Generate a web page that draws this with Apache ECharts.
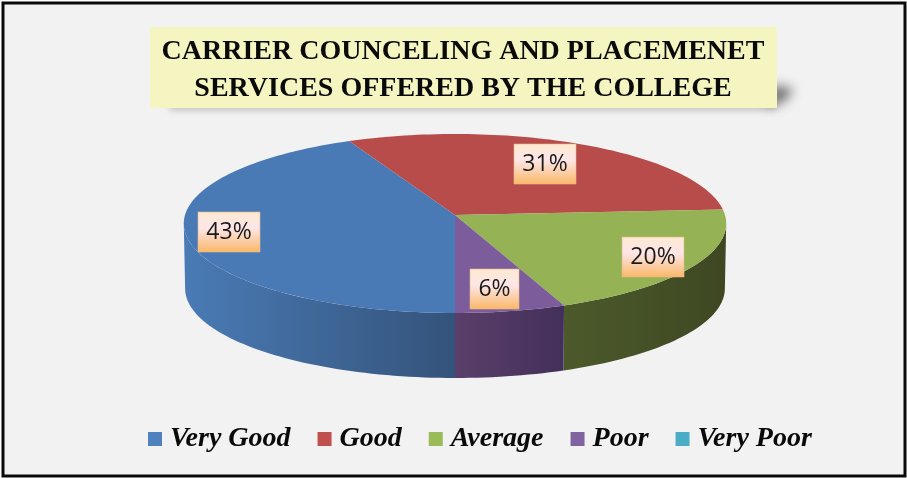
<!DOCTYPE html>
<html>
<head>
<meta charset="utf-8">
<style>html,body{margin:0;padding:0;background:#fff}#c{width:907px;height:478px}</style>
<script src="https://cdn.jsdelivr.net/npm/echarts@6/dist/echarts.min.js"></script>
</head>
<body>
<div id="c"></div>
<script>
const categories = ['Very Good', 'Good', 'Average', 'Poor', 'Very Poor'];
const percentValues = [43, 31, 20, 6, 0];
const titleLines = ['CARRIER COUNCELING AND PLACEMENET', 'SERVICES OFFERED BY THE COLLEGE'];

const topColors = ['#4a7ab5', '#b74c4a', '#95b254', '#7c5c9a', '#4bacc6'];
const legendColors = ['#4f81bd', '#c0504d', '#9bbb59', '#8064a2', '#4bacc6'];
const sideColors = [['#4a7bb5', '#34537b'], ['#8a3a38', '#8a3a38'], ['#4c5a2b', '#3e4722'], ['#5a3f6a', '#43305a'], ['#3a8296', '#3a8296']];
const labelReach = [0.84, 0.7, 0.83, 0.78, 0];
const labelNudge = [[-1, 0], [-1, 0], [0, 1], [-3, 1], [0, 0]];

/* Perspective model of the tilted disc */
const CX = 455, CY = 215, A = 270, B = 88.7, K = 0.095, DEPTH = 65, SHRINK = 0.995;
function project(deg, t, drop) {
  const r = deg * Math.PI / 180;
  const u = -Math.sin(r) * t, v = Math.cos(r) * t;
  const d = 1 - K * v;
  const s = drop ? SHRINK : 1;
  return [CX + s * A * u / d, CY + B * v / d + (drop ? DEPTH : 0)];
}
function arcPoints(from, to, drop) {
  const pts = [];
  const n = Math.max(2, Math.ceil(Math.abs(to - from) / 1.5));
  for (let i = 0; i <= n; i++) pts.push(project(from + (to - from) * i / n, 1, drop));
  return pts;
}
/* rim is visible between these clockwise angles, measured from the front */
const visibleRanges = [[-84.5, 84.5], [275.5, 444.5]];

let running = 0;
const spans = percentValues.map(p => {
  const s = running / 100 * 360;
  running += p;
  return [s, running / 100 * 360, p];
});

function renderSlice(i) {
  return function (params, api) {
    const start = api.value(0), end = api.value(1), pct = api.value(2);
    if (!pct) return { type: 'group', children: [] };
    const children = [];
    visibleRanges.forEach(rg => {
      const a = Math.max(start, rg[0]), b = Math.min(end, rg[1]);
      if (b <= a) return;
      const upper = arcPoints(a, b, false), lower = arcPoints(b, a, true);
      const x0 = Math.min(upper[0][0], upper[upper.length - 1][0]);
      const x1 = Math.max(upper[0][0], upper[upper.length - 1][0]);
      children.push({
        type: 'polygon', silent: true,
        shape: { points: upper.concat(lower) },
        style: {
          fill: new echarts.graphic.LinearGradient(x0, 0, x1, 0, [
            { offset: 0, color: sideColors[i][0] },
            { offset: 1, color: sideColors[i][1] }
          ], true)
        }
      });
    });
    children.push({
      type: 'polygon', silent: true,
      shape: { points: [[CX, CY]].concat(arcPoints(start, end, false)) },
      style: { fill: topColors[i] }
    });
    const text = pct + '%';
    const w = text.length > 2 ? 62 : 49, h = 40;
    const c = project((start + end) / 2, labelReach[i], false);
    const lx = Math.round(c[0] - w / 2 + labelNudge[i][0]), ly = Math.round(c[1] - h / 2 + labelNudge[i][1]);
    children.push({
      type: 'rect', silent: true, z2: 50,
      shape: { x: lx, y: ly, width: w, height: h },
      style: {
        fill: new echarts.graphic.LinearGradient(0, 0, 0, 1, [
          { offset: 0, color: '#fde9d0' },
          { offset: 0.4, color: '#fde6e8' },
          { offset: 1, color: '#fab766' }
        ]),
        stroke: 'rgba(232,185,138,0.6)', lineWidth: 1
      }
    });
    children.push({
      type: 'text', silent: true, z2: 51,
      x: lx + w / 2, y: ly + h / 2,
      style: { text: text, fill: '#1a1a1a', font: '23px "Open Sans"', align: 'center', verticalAlign: 'middle' }
    });
    return { type: 'group', children: children };
  };
}

const series = categories.map((name, i) => ({
  type: 'custom',
  name: name,
  coordinateSystem: 'none',
  silent: true,
  itemStyle: { color: legendColors[i] },
  renderItem: renderSlice(i),
  data: [spans[i]]
}));

const OFF = 2000;
const option = {
  animation: false,
  backgroundColor: '#ffffff',
  title: {
    text: titleLines.join('\n'),
    left: 458, top: 28, textAlign: 'center',
    textStyle: {
      fontFamily: '"Liberation Serif"', fontWeight: 'bold', fontSize: 28,
      lineHeight: 37, color: '#0a0a0a', align: 'center'
    }
  },
  legend: {
    left: 143, top: 420, icon: 'rect', itemWidth: 14, itemHeight: 14, itemGap: 27,
    selectedMode: false,
    data: categories,
    textStyle: {
      fontFamily: '"Liberation Serif"', fontStyle: 'italic', fontWeight: 'bold',
      fontSize: 28, color: '#0a0a0a', padding: [0, 0, 0, 3]
    }
  },
  graphic: [
    { type: 'rect', z: -5, silent: true, shape: { x: 3, y: 3, width: 902, height: 473 },
      style: { fill: '#f2f2f2', stroke: '#0a0a0a', lineWidth: 3 } },
    { type: 'polygon', z: -4, silent: true,
      shape: { points: [[170 - OFF, 100], [776 - OFF, 100], [776 - OFF, 110], [170 - OFF, 110]] },
      style: { fill: '#888', shadowBlur: 7, shadowColor: 'rgba(120,120,120,0.45)', shadowOffsetX: OFF } },
    { type: 'polygon', z: -4, silent: true,
      shape: { points: [[770 - OFF, 86], [793 - OFF, 88], [786 - OFF, 100], [770 - OFF, 106]] },
      style: { fill: '#555', shadowBlur: 12, shadowColor: 'rgba(70,70,70,0.8)', shadowOffsetX: OFF } },
    { type: 'rect', z: -3, silent: true, shape: { x: 150, y: 27, width: 627, height: 81 },
      style: { fill: '#f5f5c2' } }
  ],
  series: series
};
const chart = echarts.init(document.getElementById('c'), null, { renderer: 'canvas' });
chart.setOption(option);
</script>
</body>
</html>
